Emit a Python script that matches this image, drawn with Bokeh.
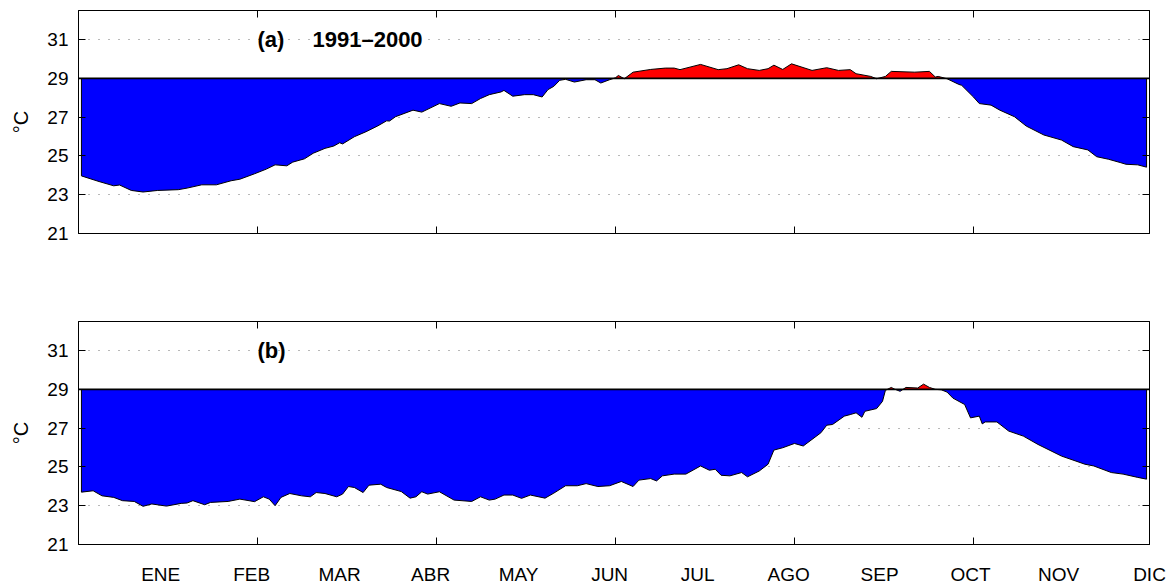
from bokeh.plotting import figure
from bokeh.models import Range1d, FixedTicker, LinearAxis, Span, Label, ColumnDataSource
from bokeh.layouts import column
from bokeh.embed import file_html
from bokeh.resources import INLINE

# ---------------- data ----------------
threshold = 29.0

days_a = [1, 7, 12, 14, 18, 22, 27, 34, 37, 42, 47, 52, 55, 60, 64, 67, 71, 73, 77, 80,
          84, 87, 89, 90, 94, 98, 102, 105, 106, 108, 114, 117, 123, 127, 130, 134, 137, 140,
          144, 145, 148, 152, 155, 158, 160, 162, 164, 166, 169, 173, 176, 178, 181, 183, 184,
          186, 189, 195, 200, 203, 205, 212, 218, 221, 225, 228, 232, 235, 237, 240, 243, 250,
          255, 259, 263, 265, 270, 272, 275, 277, 285, 290, 292, 293, 296, 300, 301, 305, 307,
          311, 314, 319, 323, 329, 335, 339, 344, 347, 351, 355, 357, 361, 364]
temp_a = [23.97, 23.68, 23.46, 23.50, 23.22, 23.14, 23.22, 23.26, 23.34, 23.51, 23.51, 23.72,
          23.80, 24.08, 24.32, 24.54, 24.49, 24.68, 24.85, 25.14, 25.39, 25.51, 25.68, 25.62,
          25.99, 26.25, 26.55, 26.81, 26.80, 27.02, 27.36, 27.26, 27.70, 27.56, 27.73, 27.70,
          27.96, 28.16, 28.30, 28.38, 28.08, 28.16, 28.16, 28.04, 28.42, 28.59, 28.90, 28.95,
          28.81, 28.93, 28.93, 28.76, 28.93, 29.03, 29.15, 28.98, 29.32, 29.46, 29.53, 29.53,
          29.45, 29.72, 29.45, 29.50, 29.70, 29.50, 29.41, 29.50, 29.68, 29.46, 29.75, 29.41,
          29.55, 29.41, 29.45, 29.24, 29.10, 28.98, 29.10, 29.36, 29.32, 29.36, 29.07, 29.10,
          28.98, 28.69, 28.64, 28.04, 27.70, 27.62, 27.36, 27.02, 26.54, 26.08, 25.82, 25.48,
          25.31, 24.96, 24.83, 24.66, 24.57, 24.54, 24.42]

days_b = [1, 5, 8, 12, 15, 19, 22, 25, 30, 35, 37, 39, 43, 45, 51, 55, 60, 63, 65, 67, 69,
          72, 76, 79, 81, 84, 88, 90, 92, 94, 97, 99, 103, 105, 110, 113, 115, 117, 119, 123,
          128, 134, 137, 140, 142, 145, 148, 151, 154, 159, 162, 166, 170, 173, 177, 181, 185,
          189, 191, 195, 197, 199, 203, 207, 212, 215, 217, 219, 222, 226, 228, 232, 235, 237,
          240, 244, 247, 253, 255, 257, 261, 263, 265, 267, 268, 272, 274, 275, 277, 278, 280,
          282, 286, 288, 290, 292, 294, 296, 298, 302, 304, 307, 308, 309, 313, 317, 322, 327,
          335, 343, 346, 352, 356, 361, 364]
temp_b = [23.70, 23.77, 23.51, 23.43, 23.26, 23.22, 22.97, 23.09, 22.98, 23.12, 23.14, 23.26,
          23.05, 23.17, 23.22, 23.34, 23.21, 23.46, 23.34, 23.00, 23.43, 23.63, 23.51, 23.46,
          23.68, 23.63, 23.46, 23.60, 23.99, 23.94, 23.68, 24.06, 24.11, 23.94, 23.73, 23.39,
          23.46, 23.72, 23.60, 23.72, 23.29, 23.22, 23.46, 23.29, 23.34, 23.55, 23.55, 23.38,
          23.55, 23.39, 23.65, 24.03, 24.03, 24.14, 23.99, 24.03, 24.25, 23.99, 24.32, 24.40,
          24.28, 24.54, 24.63, 24.63, 25.05, 24.83, 24.88, 24.57, 24.54, 24.71, 24.49, 24.79,
          25.14, 25.87, 25.99, 26.21, 26.08, 26.76, 27.15, 27.19, 27.62, 27.70, 27.79, 27.56,
          27.87, 28.01, 28.38, 28.95, 29.10, 29.02, 28.90, 29.10, 29.07, 29.27, 29.10, 29.00,
          28.98, 28.86, 28.55, 28.22, 27.53, 27.62, 27.22, 27.32, 27.32, 26.85, 26.59, 26.16,
          25.56, 25.14, 25.05, 24.71, 24.63, 24.46, 24.37]

month_labels = ["ENE", "FEB", "MAR", "ABR", "MAY", "JUN", "JUL", "AGO", "SEP", "OCT", "NOV", "DIC"]
month_label_days = [28, 59, 89, 120, 150, 181, 211, 242, 273, 304, 334, 365]
tick_days = [61, 122, 183, 244, 305]
y_ticks = [21, 23, 25, 27, 29, 31]

FONT = "Liberation Sans"


def split_fill(days, temps, thr):
    """Insert threshold crossings so the two fills meet cleanly."""
    xs, ys = [days[0]], [temps[0]]
    for i in range(1, len(days)):
        x0, y0, x1, y1 = days[i - 1], temps[i - 1], days[i], temps[i]
        if (y0 - thr) * (y1 - thr) < 0:
            xc = x0 + (thr - y0) * (x1 - x0) / (y1 - y0)
            xs.append(xc)
            ys.append(thr)
        xs.append(x1)
        ys.append(y1)
    lo = [min(v, thr) for v in ys]
    hi = [max(v, thr) for v in ys]
    return xs, lo, hi


def tick_only_axis(ticks):
    return LinearAxis(ticker=FixedTicker(ticks=ticks), major_tick_in=7, major_tick_out=0,
                      minor_tick_line_color=None, major_label_text_color=None,
                      major_label_text_font_size="1px", major_label_standoff=0,
                      axis_line_color="black", axis_line_width=1)


def make_panel(days, temps, tag, subtitle, show_months, top_border, bottom_border):
    p = figure(frame_width=1071, frame_height=223,
               x_range=Range1d(0, 365), y_range=Range1d(21, 32.5),
               output_backend="svg", toolbar_location=None,
               x_axis_location=None,
               min_border_left=78, min_border_right=22,
               min_border_top=top_border, min_border_bottom=bottom_border,
               background_fill_color="white", border_fill_color="white")
    p.outline_line_color = "black"
    p.outline_line_width = 1

    xs, lo, hi = split_fill(days, temps, threshold)
    src = ColumnDataSource(dict(x=xs, lo=lo, hi=hi, thr=[threshold] * len(xs)))
    p.varea(x="x", y1="lo", y2="thr", source=src, fill_color="#0000FF")
    p.varea(x="x", y1="thr", y2="hi", source=src, fill_color="#FF0000")

    line_x = [days[0]] + list(days) + [days[-1]]
    line_y = [threshold] + list(temps) + [threshold]
    p.line(line_x, line_y, line_color="black", line_width=1)

    p.add_layout(Span(location=threshold, dimension="width", line_color="black", line_width=1.6))

    # grid: dotted horizontal lines only
    p.xgrid.visible = False
    p.ygrid.ticker = FixedTicker(ticks=y_ticks)
    p.ygrid.grid_line_color = "#707070"
    p.ygrid.grid_line_dash = "1 9"
    p.ygrid.grid_line_width = 1

    # left axis
    ya = p.yaxis[0]
    ya.ticker = FixedTicker(ticks=y_ticks)
    ya.major_tick_in = 7
    ya.major_tick_out = 0
    ya.minor_tick_line_color = None
    ya.axis_line_color = "black"
    ya.major_label_text_font = FONT
    ya.major_label_text_font_size = "19px"
    ya.major_label_text_color = "black"
    ya.major_label_standoff = 10
    ya.axis_label = "°C"
    ya.axis_label_text_font = FONT
    ya.axis_label_text_font_size = "20px"
    ya.axis_label_text_font_style = "normal"
    ya.axis_label_text_color = "black"
    ya.axis_label_standoff = 12

    # right, bottom and top axes carry only inward tick marks
    p.add_layout(tick_only_axis(y_ticks), "right")
    p.add_layout(tick_only_axis(tick_days), "below")
    p.add_layout(tick_only_axis(tick_days), "above")

    if show_months:
        ma = LinearAxis(ticker=FixedTicker(ticks=month_label_days),
                        major_label_overrides={d: m for d, m in zip(month_label_days, month_labels)},
                        axis_line_color=None, major_tick_line_color=None,
                        minor_tick_line_color=None,
                        major_label_text_font=FONT, major_label_text_font_size="19px",
                        major_label_text_color="black", major_label_standoff=13)
        p.add_layout(ma, "below")

    p.add_layout(Label(x=61, y=31, text=tag, text_font=FONT, text_font_size="22px",
                       text_font_style="bold", text_baseline="middle", text_align="left",
                       text_color="black"))
    if subtitle:
        p.add_layout(Label(x=61, y=31, x_offset=55, text=subtitle, text_font=FONT,
                           text_font_size="22px", text_font_style="bold",
                           text_baseline="middle", text_align="left", text_color="black"))
    return p


p1 = make_panel(days_a, temp_a, "(a)", "1991–2000", False, 10, 44)
p2 = make_panel(days_b, temp_b, "(b)", None, True, 44, 36)

layout = column(p1, p2, spacing=0)
open("out.html", "w").write(file_html(layout, INLINE))
